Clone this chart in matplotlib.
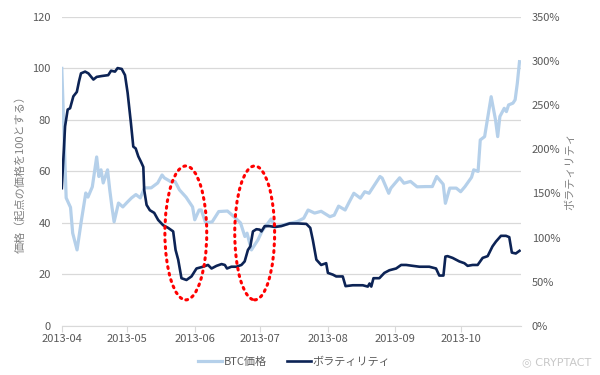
import numpy as np
import matplotlib
matplotlib.use('Agg')
import matplotlib.pyplot as plt
from matplotlib.patches import Ellipse

plt.rcParams['font.family'] = ['Noto Sans CJK JP', 'DejaVu Sans']

# days counted from 2013-04-01
btc_day = [0, 2, 4, 5, 7, 9, 11, 12, 14, 16, 17, 18, 19, 21, 22, 23, 24, 26, 28, 30,
           32, 34, 36, 38, 41, 44, 46, 47, 50, 52, 54, 57, 60, 61, 63, 64, 66, 69, 72, 76,
           79, 82, 84, 85, 87, 90, 92, 94, 96, 98, 103, 108, 111, 113, 116, 119, 123, 125,
           127, 130, 132, 134, 137, 139, 141, 144, 146, 147, 150, 151, 155, 157, 160, 163,
           167, 170, 172, 175, 176, 178, 181, 183, 185, 188, 189, 191, 192, 194, 195, 197,
           199, 200, 201, 203, 204, 205, 207, 208, 209, 210]
btc_price = [100, 49.7, 46, 36, 29.5, 41, 51.6, 50, 54, 65.6, 58, 60.6, 55.5, 60.6, 52.8,
             46.2, 40.4, 47.7, 46.2, 48, 49.7, 51, 49.7, 53.6, 53.6, 55.5, 58.6, 57.5, 56,
             56, 52.8, 50, 46.2, 41.2, 45, 45, 40, 40.4, 44.4, 44.6, 42.4, 40, 34.7, 36, 29.5,
             33.4, 37, 39.2, 41.5, 38.5, 39.5, 40.5, 41.8, 45, 43.8, 44.5, 42.4, 43, 46.5, 45,
             48.3, 51.5, 49.6, 52.1, 51.5, 55.4, 58, 57.4, 51.5, 53.5, 57.5, 55.4, 56.1, 54,
             54.1, 54.1, 58, 55, 47.6, 53.5, 53.5, 52.1, 54.1, 57.7, 60.6, 60, 72.2, 73.5,
             78.7, 89, 80, 73.5, 81.3, 84.5, 83.2, 85.8, 86.5, 87.8, 94.2, 102.6]

vol_day = [0, 1.5, 2.7, 3.8, 5.3, 6.9, 7.9, 8.8, 10.7, 12.2, 14.5, 16, 18.3, 21.3, 22.6,
           24.4, 25.6, 27.5, 29, 30.2, 31.7, 32.8, 33.9, 35.1, 36.3, 37.4, 37.8, 38.9, 40.4,
           42.4, 44.2, 46.5, 48.8, 51.1, 52.2, 53.4, 54.9, 57.2, 59.5, 61.8, 64.8, 67.1,
           68.7, 71, 73.3, 74.8, 75.8, 77.8, 80.1, 82.4, 83.9, 85.4, 86.5, 87.7, 89.3, 90.8,
           91.6, 93.1, 95.4, 97.7, 100.7, 104.5, 108.3, 112.2, 114, 115.2, 116.8, 119, 121.3,
           122.1, 124.4, 125.9, 128.9, 130.2, 133.5, 138.1, 140.4, 141.2, 142, 143, 145.7,
           148, 150.3, 153.4, 155.7, 158, 161, 164.1, 168.6, 171.7, 173.2, 175.1, 176, 177,
           179.3, 182.4, 184.7, 186.2, 188.5, 190.8, 193.1, 195.4, 197.6, 199.2, 201.5,
           203.8, 205.3, 206.5, 208.3, 210]
volatility = [156, 226, 245, 246.5, 260, 265, 277, 286, 288, 286, 279, 282, 283, 284, 289,
              288, 292, 291, 284, 264, 230, 203, 201, 192, 186, 180, 154, 137, 131, 128, 120,
              114, 111, 107, 86, 75, 54, 52, 56, 65, 67, 69, 65, 68, 70, 69, 65, 67, 67, 69,
              73, 86, 90, 107, 109.5, 109, 107, 113, 113, 112, 113, 116, 116, 115.5, 111, 97,
              75, 69, 71, 60, 58, 56, 56, 45, 46, 46, 44.5, 48, 44.5, 54, 54, 60, 63, 65, 69,
              69, 68, 67, 67, 65, 57, 57, 78.5, 79, 77, 73, 71, 68, 69, 69, 77, 79, 90, 95.5,
              102, 102, 100.5, 83, 82, 85]

month_ticks = [0, 30, 61, 91, 122, 153, 183]
month_labels = ['2013-04', '2013-05', '2013-06', '2013-07', '2013-08', '2013-09', '2013-10']

# highlighted periods (centre day, centre price, width days, height price)
circles = [(56.9, 36.1, 19.2, 52), (88.5, 36.1, 18.3, 52)]

light = '#b5d0ea'
dark = '#0c2355'
grey = '#595959'

fig = plt.figure(figsize=(6, 3.75), dpi=100)
ax = fig.add_axes([0.103, 0.131, 0.765, 0.824])
ax2 = ax.twinx()

l1, = ax.plot(btc_day, btc_price, color=light, lw=2.3, label='BTC価格')
l2, = ax2.plot(vol_day, volatility, color=dark, lw=1.9, label='ボラティリティ')

ax.set_xlim(0, 210.6)
ax.set_ylim(0, 120)
ax2.set_ylim(0, 350)
ax.set_yticks(range(0, 121, 20))
ax2.set_yticks(range(0, 351, 50))
ax2.set_yticklabels([f'{v}%' for v in range(0, 351, 50)])
ax.set_xticks(month_ticks)
ax.set_xticklabels(month_labels)

ax.grid(axis='y', color='#d9d9d9', lw=0.9)
ax.set_axisbelow(True)
for a in (ax, ax2):
    for s in a.spines.values():
        s.set_visible(False)
ax.spines['bottom'].set_visible(True)
ax.spines['bottom'].set_color('#d9d9d9')
ax.tick_params(axis='y', length=0, labelsize=8, labelcolor=grey, pad=8)
ax2.tick_params(axis='y', length=0, labelsize=8, labelcolor=grey, pad=8)
ax.tick_params(axis='x', length=4, color='#d9d9d9', labelsize=8, labelcolor=grey, pad=2)

ax.set_ylabel('価格（起点の価格を100とする）', fontsize=8, color='#808080', labelpad=5)
ax2.set_ylabel('ボラティリティ', fontsize=8, color='#808080', labelpad=3)

for cx, cy, w, h in circles:
    e = Ellipse((cx, cy), w, h, transform=ax.transData, fill=False, ec='#ff0000',
                lw=2.2, ls=(0, (0.6, 1.6)), capstyle='round', zorder=10)
    ax2.add_patch(e)

fig.legend(handles=[l1, l2], loc='center', bbox_to_anchor=(0.49, 0.035), ncol=2,
           frameon=False, fontsize=8, labelcolor=grey, handlelength=2.2,
           handletextpad=0.1, columnspacing=1.8)

fig.text(0.985, 0.035, '◎ CRYPTACT', ha='right', va='center', fontsize=8,
         color='#c8c8c8', family=['DejaVu Sans'])

fig.savefig('out.png', dpi=100)
